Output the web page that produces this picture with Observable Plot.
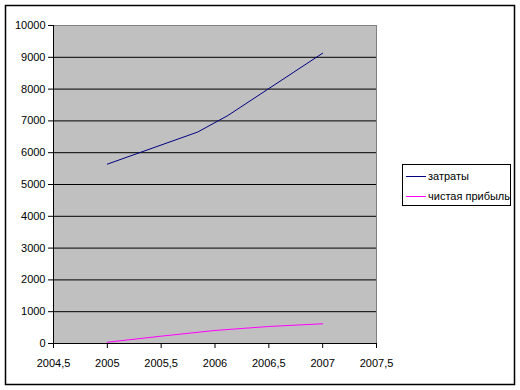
<!DOCTYPE html>
<html><head><meta charset="utf-8">
<script src="https://cdn.jsdelivr.net/npm/d3@7"></script>
<script src="https://cdn.jsdelivr.net/npm/@observablehq/plot@0.6"></script>
<style>body{margin:0;background:#fff;} svg{font-family:"Liberation Sans",Arial,sans-serif;}</style>
</head><body><div id="chart"></div>
<script>
const seriesNames = ["затраты", "чистая прибыль"];
const seriesColors = ["#000080", "#ff00ff"];
const costX = [2005, 2005.84, 2006.12, 2007];
const costY = [5640, 6650, 7170, 9130];
const profitX = [2005, 2005.5, 2006, 2006.5, 2007];
const profitY = [40, 230, 410, 535, 620];
const xTicks = [2004.5, 2005, 2005.5, 2006, 2006.5, 2007, 2007.5];
const yTicks = [0, 1000, 2000, 3000, 4000, 5000, 6000, 7000, 8000, 9000, 10000];

const data = [
  ...costX.map((x, i) => ({x, y: costY[i], s: seriesNames[0]})),
  ...profitX.map((x, i) => ({x, y: profitY[i], s: seriesNames[1]}))
];

const chart = Plot.plot({
  width: 520, height: 390,
  marginLeft: 53, marginRight: 144, marginTop: 25, marginBottom: 47,
  style: {fontSize: "11px", fontFamily: "Liberation Sans, Arial, sans-serif", color: "black"},
  x: {domain: [2004.5, 2007.5], label: null},
  y: {domain: [0, 10000], label: null},
  color: {domain: seriesNames, range: seriesColors},
  marks: [
    Plot.frame({fill: "#c0c0c0", stroke: "#808080"}),
    Plot.ruleY(yTicks.filter(d => d > 0 && d < 10000), {stroke: "black", strokeWidth: 1}),
    Plot.ruleY([0], {stroke: "black"}),
    Plot.ruleX([2004.5], {stroke: "black"}),
    Plot.axisX({ticks: xTicks, tickSize: 5, tickPadding: 11, label: null, tickFormat: d => String(d).replace(".", ","), fontSize: 11}),
    Plot.axisY({ticks: yTicks, tickSize: 5, tickPadding: 3, label: null, tickFormat: d => String(d), fontSize: 11}),
    Plot.line(data, {x: "x", y: "y", z: "s", stroke: "s", strokeWidth: 1})
  ]
});

const svg = d3.select(chart);
svg.append("rect").attr("x", 5.5).attr("y", 5.5).attr("width", 509).attr("height", 379)
  .attr("fill", "none").attr("stroke", "black").attr("stroke-width", 1.5);
const lg = svg.append("g").attr("text-anchor", "start");
lg.append("rect").attr("x", 402.5).attr("y", 164.5).attr("width", 108).attr("height", 41)
  .attr("fill", "white").attr("stroke", "black");
seriesNames.forEach((n, i) => {
  const yy = 176 + i * 20;
  lg.append("line").attr("x1", 406).attr("x2", 426).attr("y1", yy + 0.5).attr("y2", yy + 0.5)
    .attr("stroke", seriesColors[i]);
  lg.append("text").attr("x", 428).attr("y", yy).attr("dy", "0.35em")
    .attr("text-anchor", "start").attr("font-size", 11).attr("fill", "black").text(n);
});
document.getElementById("chart").appendChild(chart);
</script></body></html>
